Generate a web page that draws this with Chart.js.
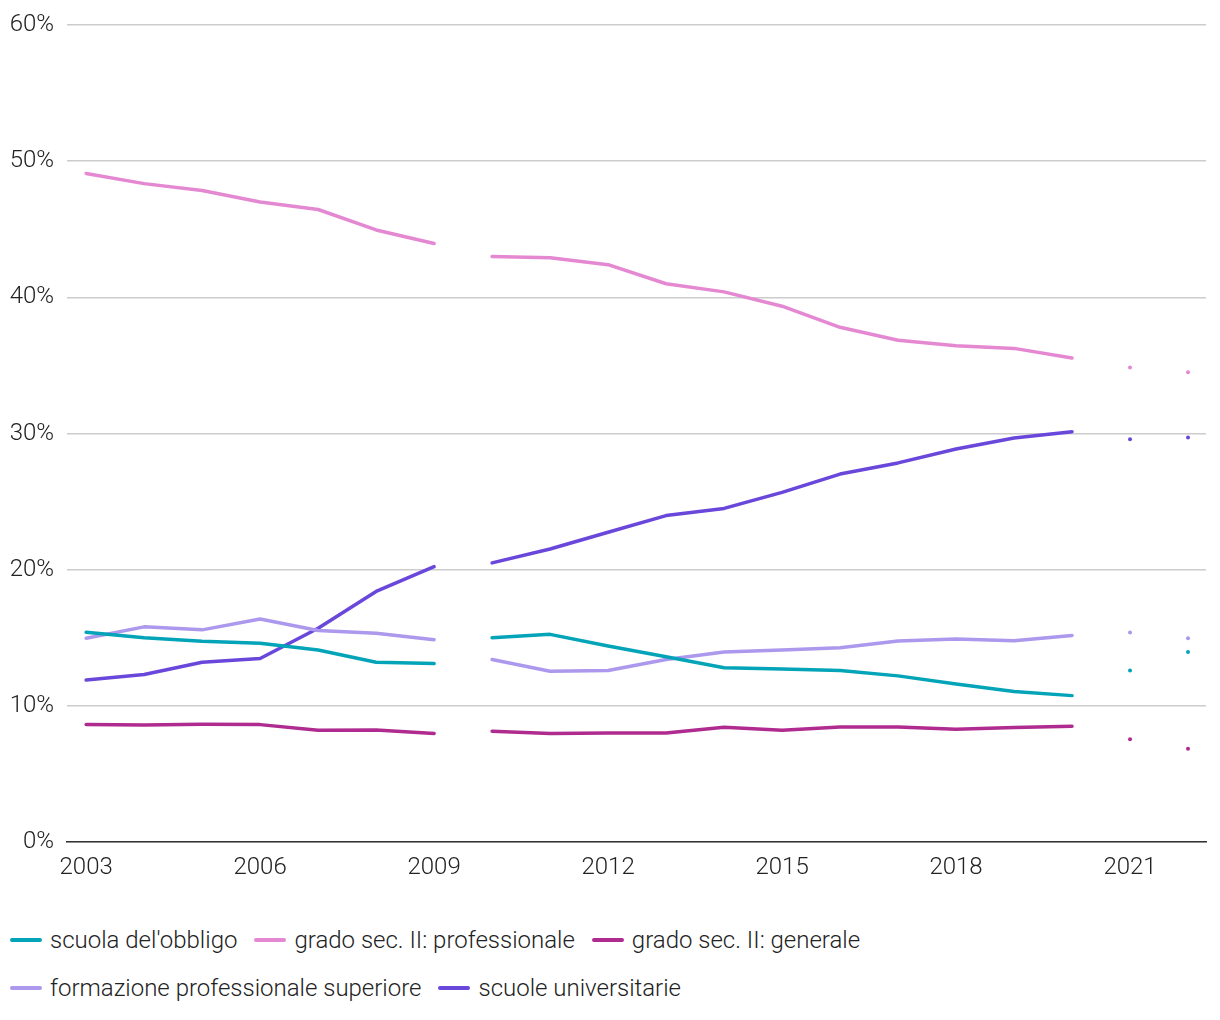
<!DOCTYPE html>
<html>
<head>
<meta charset="utf-8">
<script src="https://cdn.jsdelivr.net/npm/chart.js@4"></script>
<style>
  body { margin: 0; background: #fff; }
  #wrap { width: 1220px; height: 882px; position: relative; }
  #legend {
    display: flex; flex-wrap: wrap; column-gap: 17px; row-gap: 20px;
    padding-left: 10px; margin-top: 44px; width: 1200px;
    font: 300 24px Roboto, sans-serif; color: #222; line-height: 28px;
  }
  .item { display: flex; align-items: center; white-space: nowrap; }
  .mk { width: 32px; height: 4px; border-radius: 2px; margin-right: 8px; }
</style>
</head>
<body>
<div id="wrap"><canvas id="chart"></canvas></div>
<div id="legend"></div>
<script>
const years = [2003, 2004, 2005, 2006, 2007, 2008, 2009, 2010, 2011, 2012,
               2013, 2014, 2015, 2016, 2017, 2018, 2019, 2020, 2021, 2022];
const tickYears = [2003, 2006, 2009, 2012, 2015, 2018, 2021];

const obbligo       = [15.4, 15.0, 14.75, 14.6, 14.1, 13.2, 13.1, 15.0, 15.25, 14.4,
                       13.6, 12.8, 12.7, 12.6, 12.2, 11.6, 11.05, 10.75, 12.6, 13.95];
const professionale = [49.1, 48.35, 47.85, 47.0, 46.45, 44.95, 43.95, 43.0, 42.9, 42.4,
                       41.0, 40.4, 39.35, 37.8, 36.85, 36.45, 36.25, 35.55, 34.85, 34.5];
const generale      = [8.62, 8.6, 8.64, 8.62, 8.2, 8.22, 7.97, 8.13, 7.97, 8.01,
                       8.01, 8.42, 8.21, 8.45, 8.44, 8.28, 8.41, 8.5, 7.55, 6.85];
const formazione    = [14.97, 15.8, 15.58, 16.38, 15.53, 15.33, 14.86, 13.4, 12.54, 12.59,
                       13.4, 13.95, 14.1, 14.27, 14.76, 14.9, 14.78, 15.17, 15.38, 14.97];
const universitarie = [11.9, 12.3, 13.2, 13.48, 15.7, 18.4, 20.22, 20.5, 21.52, 22.75,
                       23.97, 24.5, 25.68, 27.02, 27.84, 28.86, 29.67, 30.13, 29.57, 29.7];

// no line after these indices (series break, last two years as dots)
const breaksAfter = [6, 17, 18];
const dotsFrom = 18;

const series = [
  { label: "scuola del'obbligo", data: obbligo, color: "#04a4b8" },
  { label: "grado sec. II: professionale", data: professionale, color: "#e588d2" },
  { label: "grado sec. II: generale", data: generale, color: "#b02b90" },
  { label: "formazione professionale superiore", data: formazione, color: "#ac98ec" },
  { label: "scuole universitarie", data: universitarie, color: "#6a47db" }
];

const font = { family: "Roboto", size: 24, weight: "300" };

const datasets = series.map(s => ({
  label: s.label,
  data: years.map((y, i) => ({ x: y, y: s.data[i] })),
  borderColor: s.color,
  backgroundColor: s.color,
  borderWidth: 3.5,
  borderCapStyle: "round",
  borderJoinStyle: "round",
  tension: 0,
  pointRadius: ctx => ctx.dataIndex >= dotsFrom ? 2 : 0,
  pointBorderWidth: 0,
  pointHoverRadius: 0,
  segment: {
    borderColor: ctx => breaksAfter.includes(ctx.p0DataIndex) ? "rgba(0,0,0,0)" : undefined
  }
}));

new Chart(document.getElementById("chart"), {
  type: "line",
  data: { datasets },
  options: {
    responsive: true,
    maintainAspectRatio: false,
    animation: false,
    layout: { padding: { top: 25, right: 14, left: 0, bottom: 0 } },
    plugins: { legend: { display: false }, tooltip: { enabled: false } },
    scales: {
      x: {
        type: "linear",
        min: 2002.67,
        max: 2022.31,
        afterBuildTicks: axis => { axis.ticks = tickYears.map(v => ({ value: v })); },
        afterFit: axis => { axis.height = 40; },
        grid: { display: false, drawTicks: false },
        border: { display: true, color: "#333", width: 1.5 },
        ticks: { color: "#222", font, padding: 12, maxRotation: 0, autoSkip: false, callback: v => String(v) }
      },
      y: {
        min: 0,
        max: 60,
        afterFit: axis => { axis.width = 67; axis.paddingTop = 0; axis.paddingBottom = 0; },
        grid: { color: "#cccccc", lineWidth: 1.5, drawTicks: false },
        border: { display: false },
        ticks: { stepSize: 10, color: "#222", font, padding: 13, callback: v => v + "%" }
      }
    }
  }
});

// legend
const legendEl = document.getElementById("legend");
series.forEach(s => {
  legendEl.innerHTML += `<div class="item"><span class="mk" style="background:${s.color}"></span>${s.label}</div>`;
});
</script>
</body>
</html>
